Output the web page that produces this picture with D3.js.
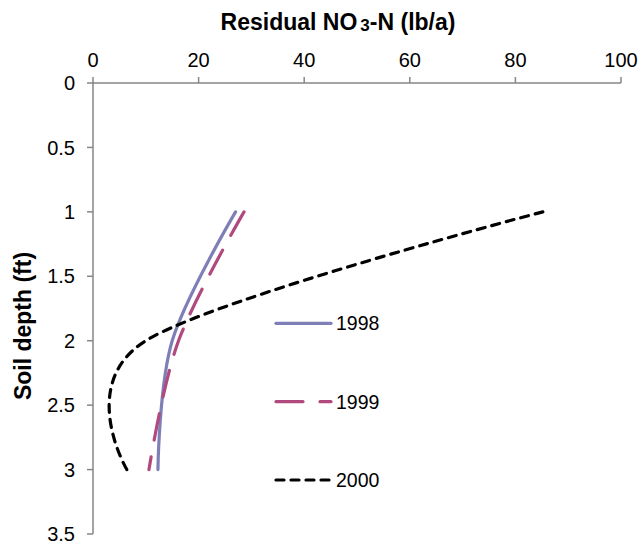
<!DOCTYPE html>
<html>
<head>
<meta charset="utf-8">
<script src="https://cdn.jsdelivr.net/npm/d3@7"></script>
<style>
  html, body { margin: 0; padding: 0; background: #fff; }
  svg { display: block; font-family: "Liberation Sans", Arial, sans-serif; }
</style>
</head>
<body>
<svg id="chart" width="641" height="542"></svg>
<script>
// ---- data ----
const depths = [1, 2, 3];
const series1998 = [27, 15, 12.3];
const series1999 = [28.6, 16.2, 10.6];
const series2000 = [85.2, 10, 6.4];
const seriesNames = ["1998", "1999", "2000"];
const xTicks = [0, 20, 40, 60, 80, 100];
const yTicks = [0, 0.5, 1, 1.5, 2, 2.5, 3, 3.5];

// ---- layout ----
const svg = d3.select("#chart");
const x = d3.scaleLinear().domain([0, 100]).range([93, 621]);
const y = d3.scaleLinear().domain([0, 3.5]).range([83, 534]);
const axisColor = "#868686";

// top x axis
const gx = svg.append("g");
gx.append("line").attr("x1", x(0)).attr("x2", x(100)).attr("y1", y(0)).attr("y2", y(0))
  .attr("stroke", axisColor).attr("stroke-width", 1.5);
gx.selectAll(".xt").data(xTicks).enter().append("line")
  .attr("x1", d => x(d)).attr("x2", d => x(d)).attr("y1", y(0)).attr("y2", y(0) - 6)
  .attr("stroke", axisColor).attr("stroke-width", 1.5);
gx.selectAll(".xl").data(xTicks).enter().append("text")
  .attr("x", d => x(d)).attr("y", 67).attr("text-anchor", "middle")
  .attr("font-size", 20).attr("fill", "#000").text(d => d);

// left y axis
const gy = svg.append("g");
gy.append("line").attr("x1", x(0)).attr("x2", x(0)).attr("y1", y(0)).attr("y2", y(3.5))
  .attr("stroke", axisColor).attr("stroke-width", 1.5);
gy.selectAll(".yt").data(yTicks).enter().append("line")
  .attr("x1", x(0) - 6).attr("x2", x(0)).attr("y1", d => y(d)).attr("y2", d => y(d))
  .attr("stroke", axisColor).attr("stroke-width", 1.5);
gy.selectAll(".yl").data(yTicks).enter().append("text")
  .attr("x", 75).attr("y", d => y(d)).attr("dy", "0.36em").attr("text-anchor", "end")
  .attr("font-size", 20).attr("fill", "#000").text(d => d);

// titles
const title = svg.append("text").attr("x", 338).attr("y", 30).attr("text-anchor", "middle")
  .attr("font-size", 23).attr("font-weight", "bold").attr("fill", "#000");
title.append("tspan").text("Residual NO");
title.append("tspan").attr("font-size", 17).attr("dx", 3).attr("dy", 1).text("3");
title.append("tspan").attr("dy", -1).text("-N (lb/a)");

svg.append("text").attr("transform", "translate(31,326) rotate(-90)")
  .attr("text-anchor", "middle").attr("font-size", 23).attr("font-weight", "bold")
  .attr("fill", "#000").text("Soil depth (ft)");

// lines
const styles = [
  { color: "#7F7FB8", dash: null },
  { color: "#B04A7E", dash: "27,17" },
  { color: "#000000", dash: "8,7" }
];
const allSeries = [series1998, series1999, series2000];
const line = d3.line()
  .x(d => x(d[0])).y(d => y(d[1]))
  .curve(d3.curveCatmullRom.alpha(0));

allSeries.forEach((s, i) => {
  const pts = s.map((v, j) => [v, depths[j]]);
  svg.append("path").attr("d", line(pts)).attr("fill", "none")
    .attr("stroke", styles[i].color).attr("stroke-width", 3.2)
    .attr("stroke-linecap", "round")
    .attr("stroke-dasharray", styles[i].dash);
});

// legend
const legY = [323.3, 401.7, 480];
seriesNames.forEach((n, i) => {
  svg.append("line").attr("x1", 276).attr("x2", 331).attr("y1", legY[i]).attr("y2", legY[i])
    .attr("stroke", styles[i].color).attr("stroke-width", 3.2)
    .attr("stroke-linecap", "round").attr("stroke-dasharray", styles[i].dash);
  svg.append("text").attr("x", 336).attr("y", legY[i]).attr("dy", "0.36em")
    .attr("font-size", 19.5).attr("fill", "#000").text(n);
});
</script>
</body>
</html>
